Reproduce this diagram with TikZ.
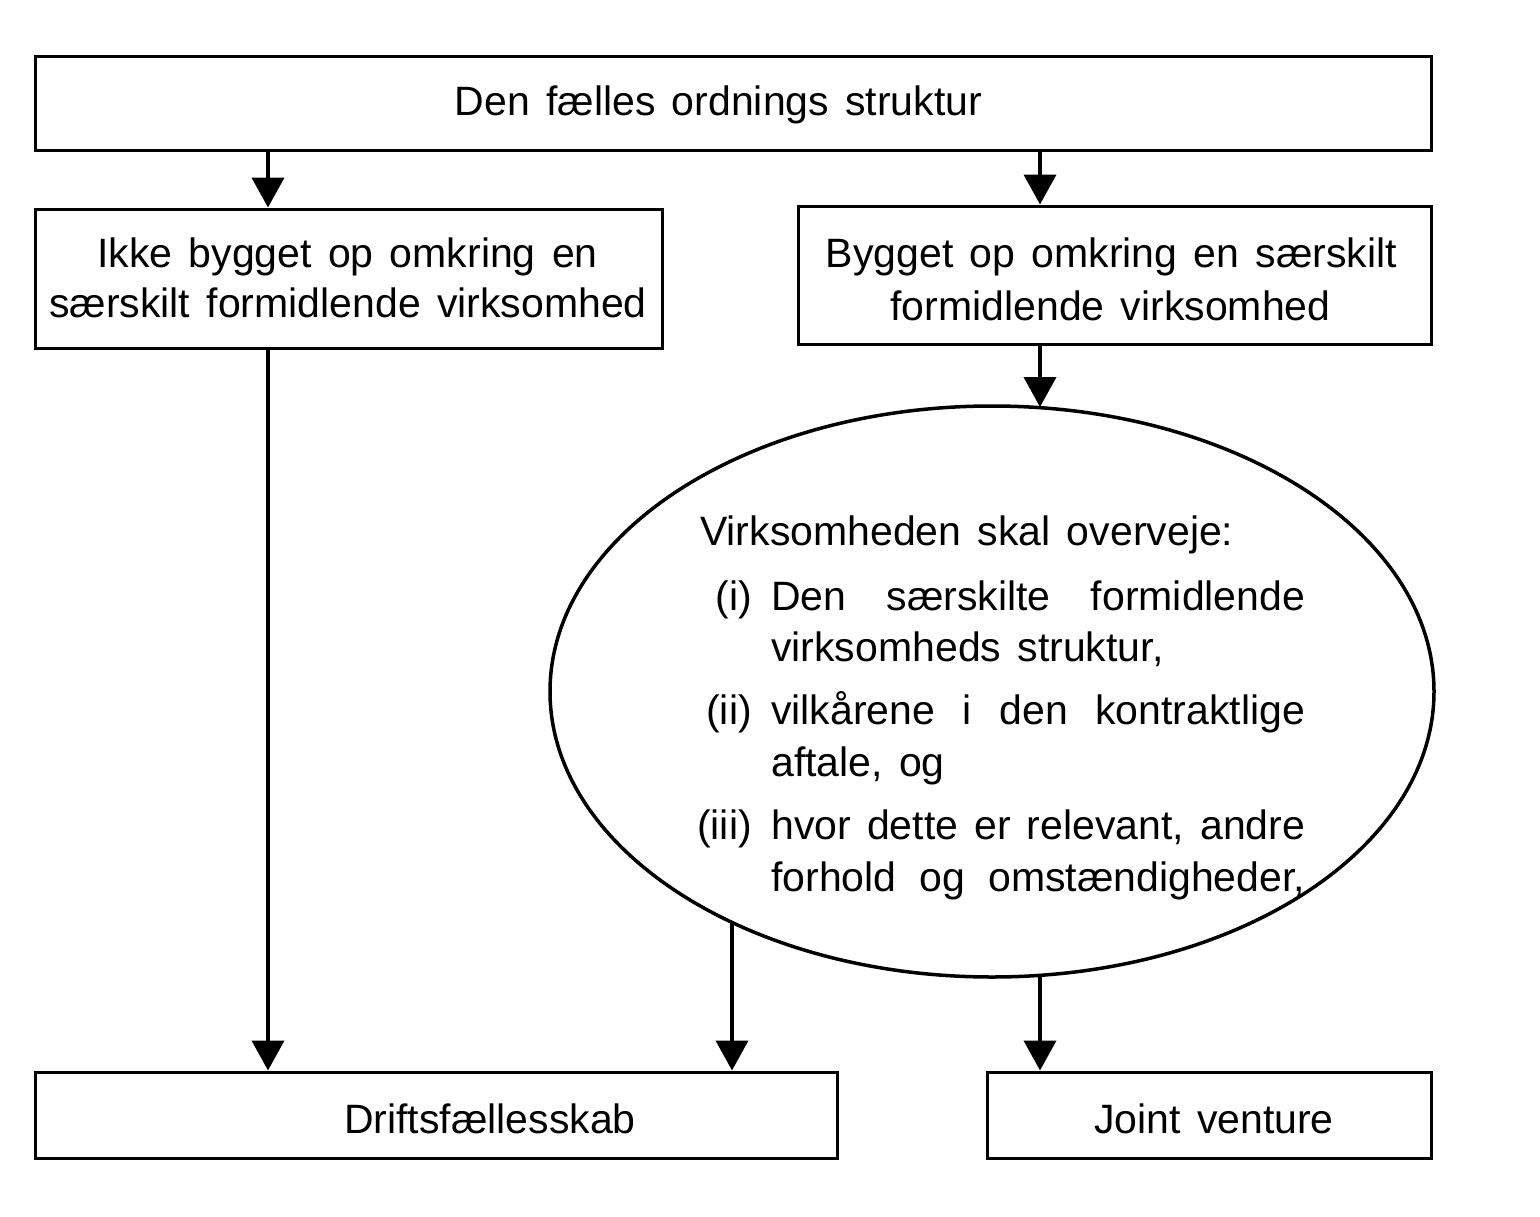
\documentclass[tikz,border=0pt]{standalone}
\usepackage{fontspec}
\setmainfont{Liberation Sans}
\usetikzlibrary{shapes.geometric,arrows.meta}
\newcommand\bigtxt{\fontsize{41}{52}\selectfont\spaceskip=16.3pt plus 30pt minus 3pt\relax}
\tikzset{
  box/.style={draw, line width=3pt, inner sep=0pt},
  txt/.style={inner sep=0pt, anchor=base, font=\bigtxt},
  txtw/.style={inner sep=0pt, anchor=base west, font=\bigtxt},
  txte/.style={inner sep=0pt, anchor=base east, font=\bigtxt},
  arr/.style={line width=4pt, -{Triangle[width=32pt,length=30pt]}},
}
\newcommand\jline[1]{\makebox[534pt][s]{#1}}
\begin{document}
\begin{tikzpicture}[x=1pt,y=-1pt]
\useasboundingbox[fill=white] (0,0) rectangle (1540,1216);
% boxes
\node[box, minimum width=1396pt, minimum height=94pt] (top) at (733,103) {};
\node[box, minimum width=627pt, minimum height=139pt] (lb) at (348.5,278.5) {};
\node[box, minimum width=633pt, minimum height=138pt] (rb) at (1114.5,275) {};
\node[box, minimum width=802pt, minimum height=86pt] (bl) at (436,1115) {};
\node[box, minimum width=444pt, minimum height=86pt] (br) at (1209,1115) {};
\node[draw, ellipse, line width=3.5pt, minimum width=884pt, minimum height=571pt, inner sep=0pt] (ell) at (992,691.5) {};
% texts
\node[txt] (t0) at (718.5,115) {Den fælles ordnings struktur};
\node[txt] (t1) at (347.5,267) {Ikke bygget op omkring en};
\node[txt] (t2) at (348,317) {særskilt formidlende virksomhed};
\node[txt] (t3) at (1111.5,267) {Bygget op omkring en særskilt};
\node[txt] (t4) at (1110.5,320) {formidlende virksomhed};
\node[txt] (t5) at (490,1133) {Driftsfællesskab};
\node[txt] (t6) at (1214,1133) {Joint venture};
\node[txtw] (e0) at (700,545) {Virksomheden skal overveje:};
\node[txte] (l1) at (752,610) {(i)};
\node[txtw] (e1) at (771,610) {\jline{Den særskilte formidlende}};
\node[txtw] (e2) at (771,661) {virksomheds struktur,};
\node[txte] (l2) at (752,724) {(ii)};
\node[txtw] (e3) at (771,724) {\jline{vilkårene i den kontraktlige}};
\node[txtw] (e4) at (771,776) {aftale, og};
\node[txte] (l3) at (752,839) {(iii)};
\node[txtw] (e5) at (771,839) {\jline{hvor dette er relevant, andre}};
\node[txtw] (e6) at (771,891) {\jline{forhold og omstændigheder,}};
% points on the ellipse border
\coordinate (xL) at (268,0);
\coordinate (xR) at (1040,0);
\coordinate (eT) at (1040,407);
\coordinate (eA) at (732,921);
\coordinate (eB) at (1040,975);
% connectors
\draw[arr] (top.south -| xL) -- (lb.north -| xL);
\draw[arr] (top.south -| xR) -- (rb.north -| xR);
\draw[arr] (rb.south -| xR) -- (eT);
\draw[arr] (lb.south -| xL) -- (bl.north -| xL);
\draw[arr] (eA) -- (bl.north -| eA);
\draw[arr] (eB) -- (br.north -| eB);
\end{tikzpicture}
\end{document}
